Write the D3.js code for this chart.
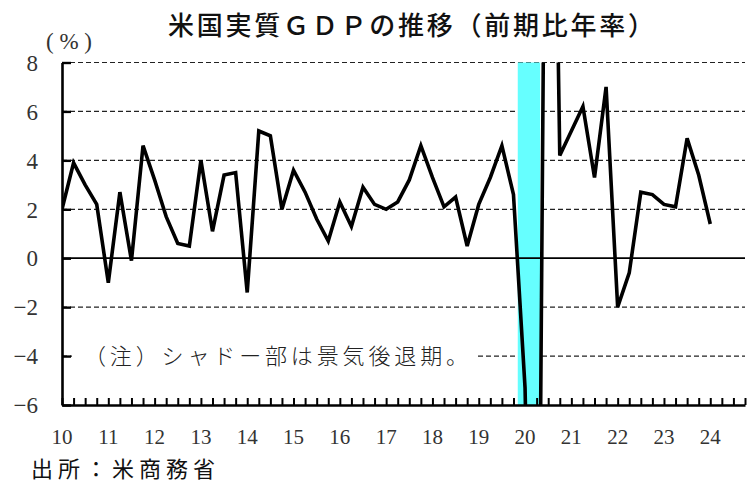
<!DOCTYPE html>
<html>
<head>
<meta charset="utf-8">
<script src="https://cdn.jsdelivr.net/npm/d3@7"></script>
<style>
  body { margin: 0; background: #fff; }
  svg { display: block; }
  .jp { font-family: "Noto Sans CJK JP", sans-serif; fill: #111; }
  .num { font-family: "Liberation Serif", "DejaVu Serif", serif; fill: #333; }
</style>
</head>
<body>
<svg id="chart" width="748" height="483"></svg>
<script>
// year labels on the x axis (one per year, placed at Q1)
const yearLabels = ['10', '11', '12', '13', '14', '15', '16', '17', '18', '19', '20', '21', '22', '23', '24'];
const quarterNames = ['Q1', 'Q2', 'Q3', 'Q4'];

// real GDP, q/q annualised (%), 2010Q1 - 2024Q1
const gdpGrowth = [
  2.0, 3.9, 3.0, 2.2,
  -1.0, 2.7, -0.1, 4.6,
  3.2, 1.7, 0.6, 0.5,
  4.0, 1.1, 3.4, 3.5,
  -1.4, 5.2, 5.0, 2.0,
  3.6, 2.7, 1.6, 0.7,
  2.3, 1.3, 2.9, 2.2,
  2.0, 2.3, 3.2, 4.6,
  3.3, 2.1, 2.5, 0.5,
  2.2, 3.3, 4.6, 2.6,
  -5.3, -28.0, 34.8, 4.2,
  5.2, 6.2, 3.3, 7.0,
  -2.0, -0.6, 2.7, 2.6,
  2.2, 2.1, 4.9, 3.4,
  1.4
];

const yTicks = [-6, -4, -2, 0, 2, 4, 6, 8];
const recessionQuarters = ['20Q1', '20Q2'];

const svg = d3.select('#chart');

const margins = { left: 62, top: 62.5, right: 3, bottom: 78 };
const width = 748, height = 483;

const categories = yearLabels.flatMap(y => quarterNames.map(q => y + q));
const data = gdpGrowth.map((v, i) => ({ key: categories[i], value: v }));

const x = d3.scalePoint()
  .domain(categories)
  .range([margins.left, width - margins.right]);

const y = d3.scaleLinear()
  .domain([-6, 8])
  .range([height - margins.bottom, margins.top]);

const step = x.step();

// clip for the plot area
svg.append('defs').append('clipPath').attr('id', 'plot')
  .append('rect')
  .attr('x', margins.left)
  .attr('y', margins.top)
  .attr('width', width - margins.right - margins.left)
  .attr('height', y(-6) - y(8));

// dashed grid
svg.append('g')
  .selectAll('line')
  .data(yTicks.filter(d => d !== 0 && d !== -6))
  .join('line')
  .attr('x1', margins.left)
  .attr('x2', width - margins.right)
  .attr('y1', d => y(d))
  .attr('y2', d => y(d))
  .attr('stroke', '#222')
  .attr('stroke-width', 1.2)
  .attr('stroke-dasharray', '5 3');

// recession shading
const shadeX0 = x(recessionQuarters[0]) - 0.63 * step;
const shadeX1 = x(recessionQuarters[1]) + 0.3 * step;
svg.append('rect')
  .attr('x', shadeX0)
  .attr('y', y(8))
  .attr('width', shadeX1 - shadeX0)
  .attr('height', y(-6) - y(8))
  .attr('fill', '#66ffff');

// zero line
svg.append('line')
  .attr('x1', margins.left)
  .attr('x2', width - margins.right)
  .attr('y1', y(0))
  .attr('y2', y(0))
  .attr('stroke', '#000')
  .attr('stroke-width', 1.8);

// note box (white, hides the grid behind it)
svg.append('rect')
  .attr('x', 72)
  .attr('y', 338)
  .attr('width', 405)
  .attr('height', 34)
  .attr('fill', '#fff');

svg.append('text')
  .attr('class', 'jp')
  .attr('x', 84)
  .attr('y', 364)
  .attr('textLength', 384)
  .attr('lengthAdjust', 'spacing')
  .style('font-size', '22px')
  .style('font-weight', 300)
  .style('fill', '#222')
  .text('（注）シャドー部は景気後退期。');

// the series
const line = d3.line()
  .x(d => x(d.key))
  .y(d => y(d.value));

svg.append('path')
  .datum(data)
  .attr('clip-path', 'url(#plot)')
  .attr('d', line)
  .attr('fill', 'none')
  .attr('stroke', '#000')
  .attr('stroke-width', 3.6)
  .attr('stroke-linejoin', 'miter');

// y axis
const yAxis = d3.axisRight(y)
  .tickValues(yTicks)
  .tickSize(9)
  .tickSizeOuter(0)
  .tickFormat('');

const yAxisG = svg.append('g')
  .attr('transform', `translate(${margins.left}, 0)`)
  .call(yAxis);
yAxisG.select('.domain').attr('stroke', '#000').attr('stroke-width', 2.6);
yAxisG.selectAll('.tick line').attr('stroke', '#000').attr('stroke-width', 2.4);

svg.append('g')
  .selectAll('text')
  .data(yTicks)
  .join('text')
  .attr('class', 'num')
  .attr('x', 38)
  .attr('y', d => y(d))
  .attr('dy', '0.36em')
  .attr('text-anchor', 'end')
  .style('font-size', '23px')
  .text(d => d < 0 ? '\u2212' + Math.abs(d) : d);

// x axis with small upward ticks every quarter
const xAxis = d3.axisTop(x)
  .tickSize(7)
  .tickSizeOuter(0)
  .tickFormat('');

const xAxisG = svg.append('g')
  .attr('transform', `translate(0, ${y(-6)})`)
  .call(xAxis);
xAxisG.select('.domain').attr('stroke', '#000').attr('stroke-width', 2.6);
xAxisG.selectAll('.tick line').attr('stroke', '#000').attr('stroke-width', 2);

svg.append('g')
  .selectAll('text')
  .data(yearLabels)
  .join('text')
  .attr('class', 'num')
  .attr('x', d => x(d + 'Q1'))
  .attr('y', 444)
  .attr('text-anchor', 'middle')
  .style('font-size', '21px')
  .text(d => d);

// texts
svg.append('text')
  .attr('class', 'jp')
  .attr('x', 168)
  .attr('y', 35)
  .attr('textLength', 486)
  .attr('lengthAdjust', 'spacing')
  .style('font-size', '26px')
  .style('font-weight', 500)
  .text('米国実質ＧＤＰの推移（前期比年率）');

svg.append('text')
  .attr('class', 'num')
  .attr('x', 69)
  .attr('y', 49)
  .attr('text-anchor', 'middle')
  .style('font-size', '23px')
  .text('( % )');

svg.append('text')
  .attr('class', 'jp')
  .attr('x', 31)
  .attr('y', 477)
  .attr('textLength', 184)
  .attr('lengthAdjust', 'spacing')
  .style('font-size', '22px')
  .text('出所：米商務省');
</script>
</body>
</html>
